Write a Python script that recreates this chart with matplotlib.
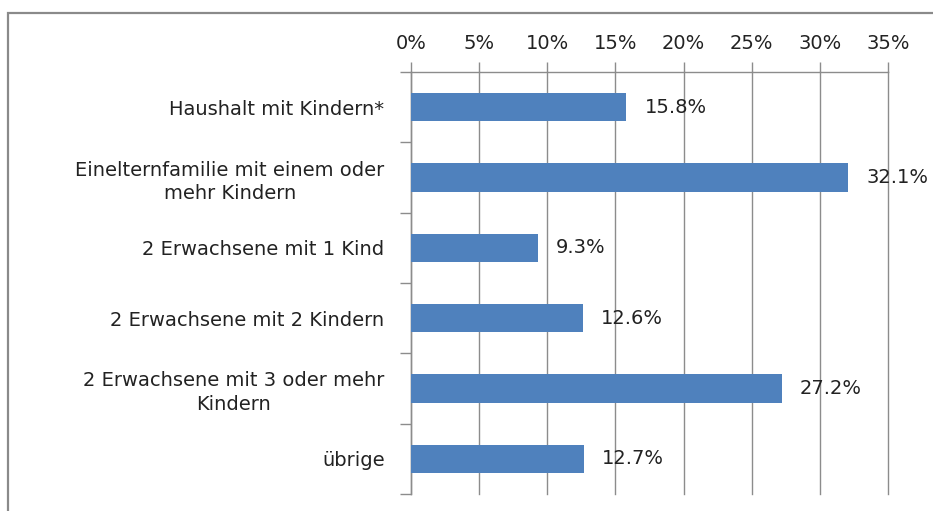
import matplotlib
matplotlib.use("Agg")
import matplotlib.pyplot as plt
from matplotlib.patches import Rectangle
from matplotlib.ticker import FixedLocator

categories = [
    "Haushalt mit Kindern*",
    "Einelternfamilie mit einem oder\nmehr Kindern",
    "2 Erwachsene mit 1 Kind",
    "2 Erwachsene mit 2 Kindern",
    "2 Erwachsene mit 3 oder mehr\nKindern",
    "übrige",
]
values = [15.8, 32.1, 9.3, 12.6, 27.2, 12.7]
x_ticks = [0, 5, 10, 15, 20, 25, 30, 35]
x_tick_labels = ["0%", "5%", "10%", "15%", "20%", "25%", "30%", "35%"]

plt.rcParams['font.family'] = ['DejaVu Sans']
TXT = "#222222"
GRID = "#8c8c8c"
FS = 14

fig = plt.figure(figsize=(9.33, 5.11), dpi=100)
ax = fig.add_axes([411/933, 1 - 494/511, (888 - 411)/933, (494 - 72)/511])

pos = list(range(len(categories)))
ax.barh(pos, values, height=0.4, color="#4F81BD", zorder=3)
ax.set_xlim(0, 35)
ax.set_ylim(len(categories) - 0.5, -0.5)

ax.xaxis.tick_top()
ax.set_xticks(x_ticks)
ax.set_xticklabels(x_tick_labels, fontsize=FS, color=TXT)
ax.tick_params(axis='x', direction='out', length=7, width=1, color=GRID, pad=7)
ax.grid(axis='x', color=GRID, linewidth=1, zorder=0)
for gl in ax.get_xgridlines():
    gl.set_clip_on(False)

ax.set_yticks(pos)
ax.set_yticklabels(categories, fontsize=FS, color=TXT, multialignment='center',
                   linespacing=1.3)
ax.tick_params(axis='y', which='major', length=0, pad=19)
ax.yaxis.set_minor_locator(FixedLocator([p - 0.5 for p in pos] + [len(pos) - 0.5]))
ax.tick_params(axis='y', which='minor', direction='out', length=8, width=1, color=GRID)

for s in ['right', 'bottom']:
    ax.spines[s].set_visible(False)
for s in ['top', 'left']:
    ax.spines[s].set_color(GRID)
    ax.spines[s].set_linewidth(1)

for p, v in zip(pos, values):
    ax.annotate(f"{v:.1f}%", xy=(v, p), xytext=(13, 0), textcoords='offset points',
                ha='left', va='center', fontsize=FS, color=TXT, zorder=4,
                annotation_clip=False)

fig.patches.append(Rectangle((8/933, -0.1), 1.2, 1 - 13/511 + 0.1,
                             transform=fig.transFigure, fill=False,
                             edgecolor="#8a8a8a", linewidth=1.6))

fig.savefig("out.png", dpi=100)
